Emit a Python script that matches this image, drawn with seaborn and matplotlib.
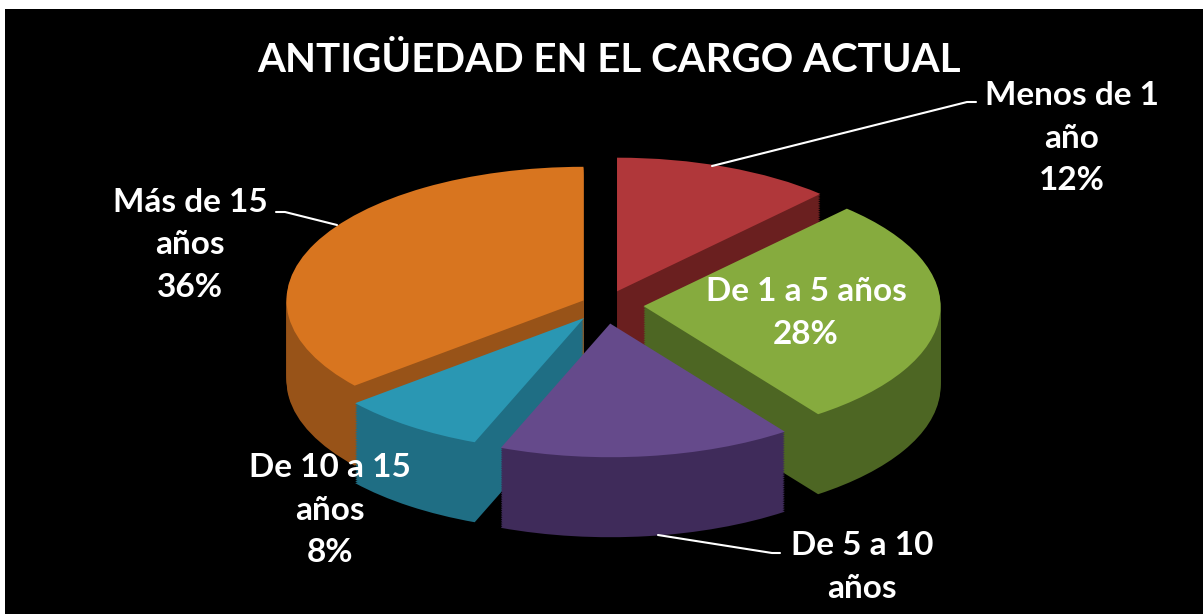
import numpy as np
import matplotlib
matplotlib.use("Agg")
import matplotlib.pyplot as plt
import seaborn as sns
from matplotlib.lines import Line2D

# Datos
categorias = ["Menos de 1 año", "De 1 a 5 años", "De 5 a 10 años", "De 10 a 15 años", "Más de 15 años"]
porcentajes = [12, 28, 16, 8, 36]
# la etiqueta de "De 5 a 10 años" sale cortada en el original (sin el %)
etiquetas = ["Menos de 1\naño\n12%", "De 1 a 5 años\n28%", "De 5 a 10\naños",
             "De 10 a 15\naños\n8%", "Más de 15\naños\n36%"]
titulo = "ANTIGÜEDAD EN EL CARGO ACTUAL"

# colores: cara superior y lateral (mas oscuro)
colores_cara = ["#B0373A", "#86AB3E", "#654A8B", "#2A97B3", "#D8751F"]
colores_lado = ["#6A1F1F", "#4D6623", "#3F2B5A", "#1F6E84", "#985318"]
explode = [0.11, 0.13, 0.14, 0.12, 0.08]

sns.set_theme(style="dark")
plt.rcParams["font.family"] = ["Lato", "DejaVu Sans"]

W, H = 1203, 614
fig = plt.figure(figsize=(W / 100, H / 100), dpi=100, facecolor="white")
ax = fig.add_axes([5 / W, 0, 1 - 5 / W, (H - 9) / H])


def px(x, y):
    # pixeles (origen arriba-izquierda) -> fraccion de figura
    return x / W, 1 - y / H


# geometria del pastel en pixeles
cx, cy = 605, 305
a = 297
b = 0.45 * a
prof = 80 / b

# paredes laterales: muchas capas desplazadas hacia abajo
for d in np.linspace(prof, 0.01, 45):
    ax.pie(porcentajes, colors=colores_lado, startangle=90, counterclock=False,
           explode=explode, center=(0, -d), wedgeprops={"linewidth": 0})

# cara superior
ax.pie(porcentajes, colors=colores_cara, startangle=90, counterclock=False,
       explode=explode, center=(0, 0), wedgeprops={"linewidth": 0})

ax.set_xlim((5 - cx) / a, (W - cx) / a)
ax.set_ylim(-(H - cy) / b, (cy - 9) / b)
ax.set_aspect("auto")
ax.set_frame_on(True)
ax.set_facecolor("black")
for s in ax.spines.values():
    s.set_visible(False)
ax.grid(False)
ax.set_xticks([])
ax.set_yticks([])

# titulo
fig.text(*px(609, 60), titulo, color="white", fontsize=29, fontweight="bold",
         ha="center", va="center")

# etiquetas de datos (centro del bloque en pixeles)
pos_etiquetas = [(1072, 138), (806, 313), (862, 567), (330, 510), (190, 245)]
for texto, (x, y) in zip(etiquetas, pos_etiquetas):
    fig.text(*px(x, y), texto, color="white", fontsize=24, fontweight="bold",
             ha="center", va="center", linespacing=1.55)

# lineas guia
guias = [[(712, 166), (967, 102), (976, 102)],
         [(337, 225), (285, 212), (276, 212)],
         [(658, 535), (772, 553), (780, 553)]]
for g in guias:
    xs, ys = zip(*[px(x, y) for x, y in g])
    fig.add_artist(Line2D(xs, ys, color="white", lw=1.5, transform=fig.transFigure))

fig.savefig("out.png", dpi=100, facecolor=fig.get_facecolor())
